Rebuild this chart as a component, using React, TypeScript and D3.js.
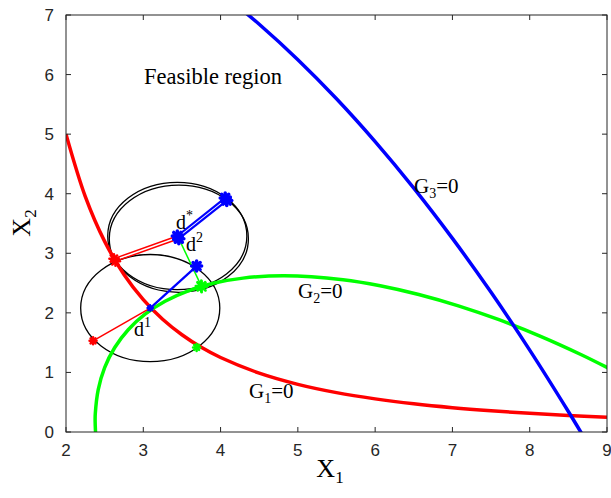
import React from "react";
import * as d3 from "d3";

// Limit-state curves G1, G2, G3 (x1, x2 pairs)
const g1X = [2, 2.25, 2.5, 2.75, 3, 3.25, 3.5, 3.75, 4, 4.5, 5, 5.5, 6, 6.5, 7, 7.5, 8, 8.5, 9];
const g1Y = [5, 3.951, 3.2, 2.645, 2.222, 1.893, 1.633, 1.422, 1.25, 0.988, 0.8, 0.661, 0.556, 0.473, 0.408, 0.356, 0.313, 0.277, 0.247];

const g2X = [2.387, 2.382, 2.377, 2.379, 2.417, 2.5, 2.631, 2.805, 3.023, 3.282, 3.582, 3.919, 4.29, 4.826, 5.584, 6.065, 6.564, 7.077, 7.602, 8.133, 8.668, 8.988, 9.2];
const g2Y = [-0.126, 0, 0.175, 0.307, 0.71, 1.082, 1.419, 1.717, 1.977, 2.195, 2.37, 2.5, 2.583, 2.624, 2.557, 2.456, 2.309, 2.118, 1.885, 1.61, 1.297, 1.091, 0.947];

const g3X = [4.2, 4.5, 5, 5.5, 6, 6.5, 7, 7.5, 8, 8.5, 8.7];
const g3Y = [7.17, 6.844, 6.25, 5.594, 4.875, 4.094, 3.25, 2.344, 1.375, 0.344, -0.086];

// Design points and the target-reliability radius around each
const designNames = ["d1", "d2", "dstar"];
const designX = [3.09, 3.46, 3.44];
const designY = [2.08, 3.245, 3.29];
const radius = 0.9;

// Most probable points found on each circle: [design index, x, y]
const mppRed = [[0, 2.35, 1.53], [1, 2.64, 2.865], [2, 2.62, 2.91]];
const mppBlue = [[0, 3.69, 2.785], [1, 4.08, 3.885], [2, 4.06, 3.93]];
const mppGreen = [[0, 3.69, 1.42], [1, 3.755, 2.44], [2, 3.75, 2.45]];
// which design-to-MPP segments are drawn
const redLinks = [0, 1, 2];
const blueLinks = [0, 1, 2];
const greenLinks = [1];

const xTicks = [2, 3, 4, 5, 6, 7, 8, 9];
const yTicks = [0, 1, 2, 3, 4, 5, 6, 7];

const W = 611;
const H = 498;
const left = 66, right = 607, top = 15, bottom = 432;

const x = d3.scaleLinear().domain([2, 9]).range([left, right]);
const y = d3.scaleLinear().domain([0, 7]).range([bottom, top]);

const RED = "#ff0000";
const GREEN = "#00ff00";
const BLUE = "#0000ff";
const AXIS = "#262626";
const SERIF = "'Liberation Serif', 'Times New Roman', serif";
const SANS = "'Liberation Sans', Arial, sans-serif";

function curvePath(xs: number[], ys: number[]) {
  const line = d3
    .line<number>()
    .x((i) => x(xs[i]))
    .y((i) => y(ys[i]))
    .curve(d3.curveCatmullRom.alpha(0.5));
  return line(xs.map((_, i) => i)) || "";
}

function Star({ cx, cy, s, color, w }: { cx: number; cy: number; s: number; color: string; w: number }) {
  const angles = [0, 45, 90, 135];
  return (
    <g stroke={color} strokeWidth={w} strokeLinecap="round">
      {angles.map((a) => {
        const r = (a * Math.PI) / 180;
        const dx = Math.cos(r) * s;
        const dy = Math.sin(r) * s;
        return <line key={a} x1={cx - dx} y1={cy - dy} x2={cx + dx} y2={cy + dy} />;
      })}
    </g>
  );
}

export default function App() {
  const rx = x(2 + radius) - x(2);
  const ry = y(0) - y(radius);

  return (
    <svg
      width={W}
      height={H}
      viewBox={`0 0 ${W} ${H}`}
      style={{ position: "absolute", left: 0, top: 0, background: "#fff" }}
    >
      <defs>
        <clipPath id="plot">
          <rect x={left} y={top} width={right - left} height={bottom - top} />
        </clipPath>
      </defs>
      <rect x={0} y={0} width={W} height={H} fill="#fff" />

      <g clipPath="url(#plot)">
        {/* reliability circles */}
        {designX.map((dx, i) => (
          <ellipse
            key={designNames[i]}
            cx={x(dx)}
            cy={y(designY[i])}
            rx={rx}
            ry={ry}
            fill="none"
            stroke="#000"
            strokeWidth={1.3}
          />
        ))}

        {/* constraint boundaries */}
        <path d={curvePath(g1X, g1Y)} fill="none" stroke={RED} strokeWidth={3.5} />
        <path d={curvePath(g2X, g2Y)} fill="none" stroke={GREEN} strokeWidth={3.5} />
        <path d={curvePath(g3X, g3Y)} fill="none" stroke={BLUE} strokeWidth={3.5} />

        {/* design-to-MPP segments */}
        {redLinks.map((k) => {
          const [di, mx, my] = mppRed[k];
          return (
            <line key={"r" + k} x1={x(designX[di])} y1={y(designY[di])} x2={x(mx)} y2={y(my)} stroke={RED} strokeWidth={1.5} />
          );
        })}
        {blueLinks.map((k) => {
          const [di, mx, my] = mppBlue[k];
          return (
            <line key={"b" + k} x1={x(designX[di])} y1={y(designY[di])} x2={x(mx)} y2={y(my)} stroke={BLUE} strokeWidth={2.2} />
          );
        })}
        {greenLinks.map((k) => {
          const [di, mx, my] = mppGreen[k];
          return (
            <line key={"g" + k} x1={x(designX[di])} y1={y(designY[di])} x2={x(mx)} y2={y(my)} stroke={GREEN} strokeWidth={1.5} />
          );
        })}

        {/* MPP markers */}
        {mppRed.map(([di, mx, my], k) => (
          <Star key={"mr" + k} cx={x(mx)} cy={y(my)} s={k === 0 ? 3.5 : 4.5} color={RED} w={2.5} />
        ))}
        {mppGreen.map(([di, mx, my], k) => (
          <Star key={"mg" + k} cx={x(mx)} cy={y(my)} s={k === 0 ? 3.5 : 5.5} color={GREEN} w={2.5} />
        ))}
        {mppBlue.map(([di, mx, my], k) => (
          <Star key={"mb" + k} cx={x(mx)} cy={y(my)} s={5} color={BLUE} w={3.5} />
        ))}
        {/* design point markers */}
        {designX.map((dx, i) => (
          <Star key={"d" + i} cx={x(dx)} cy={y(designY[i])} s={i === 0 ? 3 : 5} color={BLUE} w={i === 0 ? 2 : 3.5} />
        ))}
      </g>

      {/* axes box */}
      <rect x={left} y={top} width={right - left} height={bottom - top} fill="none" stroke={AXIS} strokeWidth={1} />
      {xTicks.map((t) => (
        <g key={"xt" + t}>
          <line x1={x(t)} x2={x(t)} y1={bottom} y2={bottom - 5} stroke={AXIS} />
          <line x1={x(t)} x2={x(t)} y1={top} y2={top + 5} stroke={AXIS} />
          <text x={x(t)} y={456} textAnchor="middle" fontFamily={SANS} fontSize={17} fill={AXIS}>
            {t}
          </text>
        </g>
      ))}
      {yTicks.map((t) => (
        <g key={"yt" + t}>
          <line x1={left} x2={left + 5} y1={y(t)} y2={y(t)} stroke={AXIS} />
          <line x1={right} x2={right - 5} y1={y(t)} y2={y(t)} stroke={AXIS} />
          <text x={54} y={y(t) + 6} textAnchor="end" fontFamily={SANS} fontSize={17} fill={AXIS}>
            {t}
          </text>
        </g>
      ))}

      {/* axis titles */}
      <text x={330} y={477} textAnchor="middle" fontFamily={SERIF} fontSize={26} fill="#000">
        X<tspan fontSize={17} dy={6}>1</tspan>
      </text>
      <text transform="translate(30,223) rotate(-90)" textAnchor="middle" fontFamily={SERIF} fontSize={26} fill="#000">
        X<tspan fontSize={17} dy={6}>2</tspan>
      </text>

      {/* annotations */}
      <text x={144} y={84} fontFamily={SERIF} fontSize={22.5} fill="#000">Feasible region</text>

      <text x={414} y={193} fontFamily={SERIF} fontSize={21} fill="#000">
        G<tspan fontSize={14} dy={5}>3</tspan><tspan dy={-5}>=0</tspan>
      </text>
      <text x={298} y={298} fontFamily={SERIF} fontSize={21} fill="#000">
        G<tspan fontSize={14} dy={5}>2</tspan><tspan dy={-5}>=0</tspan>
      </text>
      <text x={249} y={398} fontFamily={SERIF} fontSize={21} fill="#000">
        G<tspan fontSize={14} dy={5}>1</tspan><tspan dy={-5}>=0</tspan>
      </text>

      <text x={134} y={336} fontFamily={SERIF} fontSize={20} fill="#000">
        d<tspan fontSize={14} dy={-9}>1</tspan>
      </text>
      <text x={186} y={251} fontFamily={SERIF} fontSize={20} fill="#000">
        d<tspan fontSize={14} dy={-9}>2</tspan>
      </text>
      <text x={176} y={229} fontFamily={SERIF} fontSize={20} fill="#000">
        d<tspan fontSize={14} dy={-9}>*</tspan>
      </text>
    </svg>
  );
}
